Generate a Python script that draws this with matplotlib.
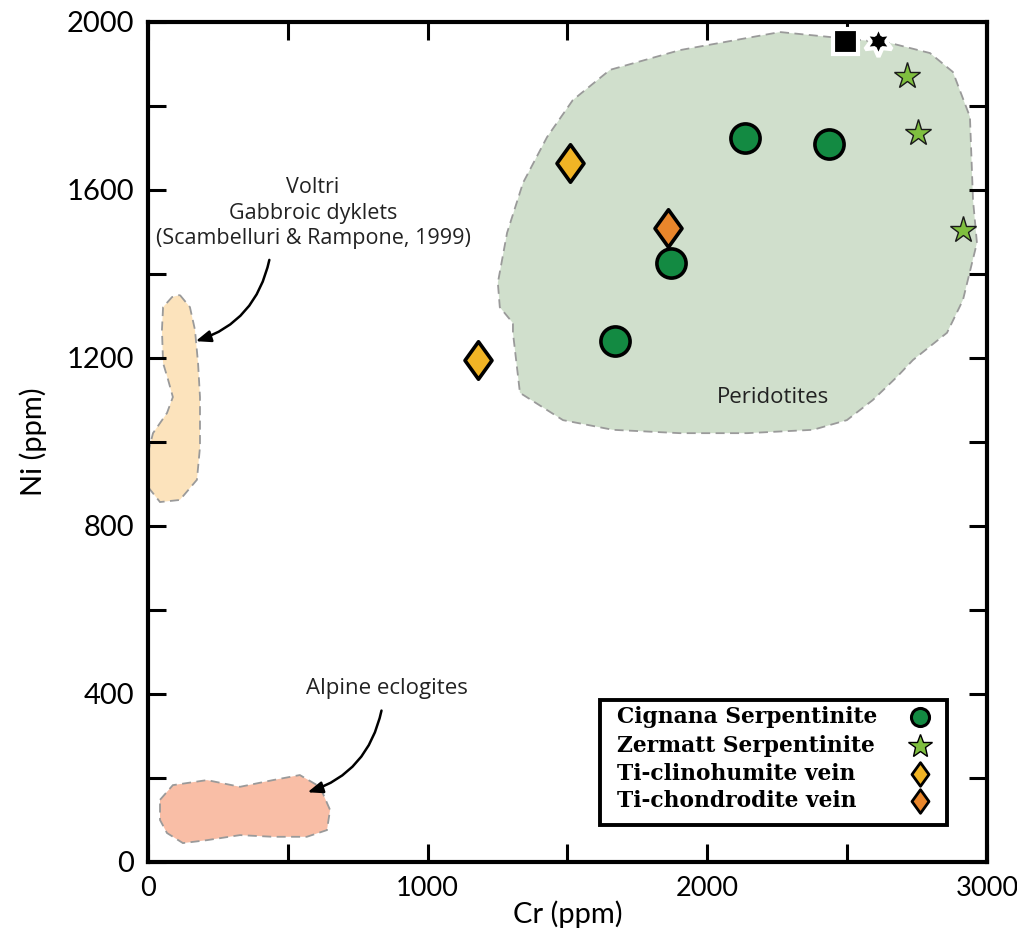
import matplotlib
matplotlib.use("Agg")
import matplotlib.pyplot as plt
from matplotlib.patches import Polygon, Rectangle
from matplotlib.path import Path
from matplotlib.ticker import MultipleLocator, FuncFormatter

# measured samples (Cr ppm, Ni ppm)
cignana_cr = [2134, 2435, 1870, 1670]
cignana_ni = [1724, 1710, 1426, 1240]
zermatt_cr = [2714, 2753, 2914]
zermatt_ni = [1871, 1736, 1505]
clinohumite_cr = [1509, 1180]
clinohumite_ni = [1664, 1195]
chondrodite_cr = [1859]
chondrodite_ni = [1510]
black_square = (2492, 1955)
black_star = (2610, 1955)

# field outlines
peridotite_cr = [2260, 2653, 2796, 2878, 2939, 2950, 2964, 2914, 2857, 2735, 2678, 2592,
                 2499, 2378, 2142, 1902, 1662, 1484, 1330, 1305, 1305, 1258, 1251, 1284,
                 1341, 1427, 1519, 1652, 1902]
peridotite_ni = [1976, 1950, 1926, 1881, 1774, 1576, 1474, 1338, 1260, 1195, 1155, 1100,
                 1052, 1029, 1021, 1021, 1029, 1052, 1117, 1260, 1283, 1321, 1379, 1498,
                 1617, 1726, 1814, 1886, 1933]
voltri_cr = [114, 150, 168, 179, 186, 186, 175, 114, 43, 0, 0, 18, 68, 89, 72, 54, 50, 54, 86]
voltri_ni = [1350, 1321, 1267, 1188, 1107, 988, 910, 862, 857, 893, 974, 1021, 1069, 1107,
             1148, 1188, 1267, 1321, 1345]
eclogite_cr = [43, 89, 211, 329, 447, 543, 615, 651, 640, 568, 447, 329, 211, 125, 68, 43]
eclogite_ni = [148, 183, 195, 179, 195, 207, 179, 124, 76, 60, 60, 64, 52, 45, 69, 100]

legend_labels = ["Cignana Serpentinite", "Zermatt Serpentinite",
                 "Ti-clinohumite vein", "Ti-chondrodite vein"]

green_dark = "#138a42"
green_light = "#7fbf3f"
gold = "#f1b425"
orange = "#e9862b"

diamond = Path([(0, 1), (0.72, 0), (0, -1), (-0.72, 0), (0, 1)],
               [Path.MOVETO, Path.LINETO, Path.LINETO, Path.LINETO, Path.CLOSEPOLY])

fig = plt.figure(figsize=(10.17, 9.43), dpi=100)
ax = fig.add_axes([0.1455, 0.0859, 0.8250, 0.8908])

# fields
fields = [
    (peridotite_cr, peridotite_ni, "#d0dfcc"),
    (voltri_cr, voltri_ni, "#fce3bc"),
    (eclogite_cr, eclogite_ni, "#f9bea6"),
]
for cr, ni, col in fields:
    ax.add_patch(Polygon(list(zip(cr, ni)), closed=True, facecolor=col,
                         edgecolor="#9a9a9a", linestyle=(0, (5, 3)), linewidth=1.3,
                         zorder=1))

ax.text(2235, 1107, "Peridotites", ha="center", va="center", fontsize=16,
        family="Open Sans", color="#222222", zorder=2)

ax.text(590, 1545, "Voltri\nGabbroic dyklets\n(Scambelluri & Rampone, 1999)",
        ha="center", va="center", fontsize=15.5, family="Open Sans", linespacing=1.3,
        color="#222222")
ax.annotate("", xy=(161, 1238), xytext=(436, 1440),
            arrowprops=dict(arrowstyle="-|>,head_length=0.9,head_width=0.35",
                            connectionstyle="arc3,rad=-0.3", color="black", lw=1.8))
ax.text(855, 414, "Alpine eclogites", ha="center", va="center", fontsize=16,
        family="Open Sans", color="#222222")
ax.annotate("", xy=(561, 164), xytext=(837, 367),
            arrowprops=dict(arrowstyle="-|>,head_length=0.9,head_width=0.35",
                            connectionstyle="arc3,rad=-0.3", color="black", lw=1.8))

# samples
ax.plot(cignana_cr, cignana_ni, "o", ms=21, mfc=green_dark, mec="black", mew=2.6,
        ls="none", zorder=4)
ax.plot(zermatt_cr, zermatt_ni, "*", ms=20, mfc=green_light, mec="#1a1a1a", mew=1.0,
        ls="none", zorder=4)
ax.plot(clinohumite_cr, clinohumite_ni, marker=diamond, ms=27, mfc=gold, mec="black",
        mew=2.6, ls="none", zorder=4)
ax.plot(chondrodite_cr, chondrodite_ni, marker=diamond, ms=27, mfc=orange, mec="black",
        mew=2.6, ls="none", zorder=4)
ax.plot(*black_square, "s", ms=18, mfc="black", mec="white", mew=3, clip_on=False,
        zorder=6)
ax.plot(*black_star, marker=(6, 1, 0), ms=22, mfc="black", mec="white", mew=3,
        clip_on=False, zorder=6)

# legend drawn as a box
ax.add_patch(Rectangle((0.539, 0.044), 0.413, 0.149, transform=ax.transAxes,
                       facecolor="white", edgecolor="black", linewidth=2.8, zorder=7))
legend_marks = [
    dict(marker="o", ms=13, mfc=green_dark, mec="black", mew=2.2),
    dict(marker="*", ms=18, mfc=green_light, mec="black", mew=1.0),
    dict(marker=diamond, ms=17, mfc=gold, mec="black", mew=2.0),
    dict(marker=diamond, ms=17, mfc=orange, mec="black", mew=2.0),
]
row_y = [0.1726, 0.138, 0.105, 0.0726]
for lab, style, y in zip(legend_labels, legend_marks, row_y):
    ax.text(0.559, y, lab, transform=ax.transAxes, ha="left", va="center",
            fontsize=15.7, family="DejaVu Serif", weight="bold", zorder=8)
    ax.plot([0.920], [y], transform=ax.transAxes, ls="none", zorder=8, clip_on=False,
            **style)

# axes
ax.set_xlim(0, 3000)
ax.set_ylim(0, 2000)
ax.xaxis.set_major_locator(MultipleLocator(500))
ax.yaxis.set_major_locator(MultipleLocator(200))
ax.xaxis.set_major_formatter(FuncFormatter(lambda v, p: f"{v:.0f}" if v % 1000 == 0 else ""))
ax.yaxis.set_major_formatter(FuncFormatter(lambda v, p: f"{v:.0f}" if v % 400 == 0 else ""))
ax.tick_params(direction="in", length=13, width=2.2, top=True, right=True, pad=10)
ax.tick_params(axis="x", labelsize=19.5)
ax.tick_params(axis="y", labelsize=21)
for lab in ax.get_xticklabels() + ax.get_yticklabels():
    lab.set_family("Lato")
for sp in ax.spines.values():
    sp.set_linewidth(3)
ax.set_xlabel("Cr (ppm)", fontsize=21, family="Lato", labelpad=0)
ax.set_ylabel("Ni (ppm)", fontsize=21, family="Lato", labelpad=14)

fig.savefig("out.png", dpi=100)
